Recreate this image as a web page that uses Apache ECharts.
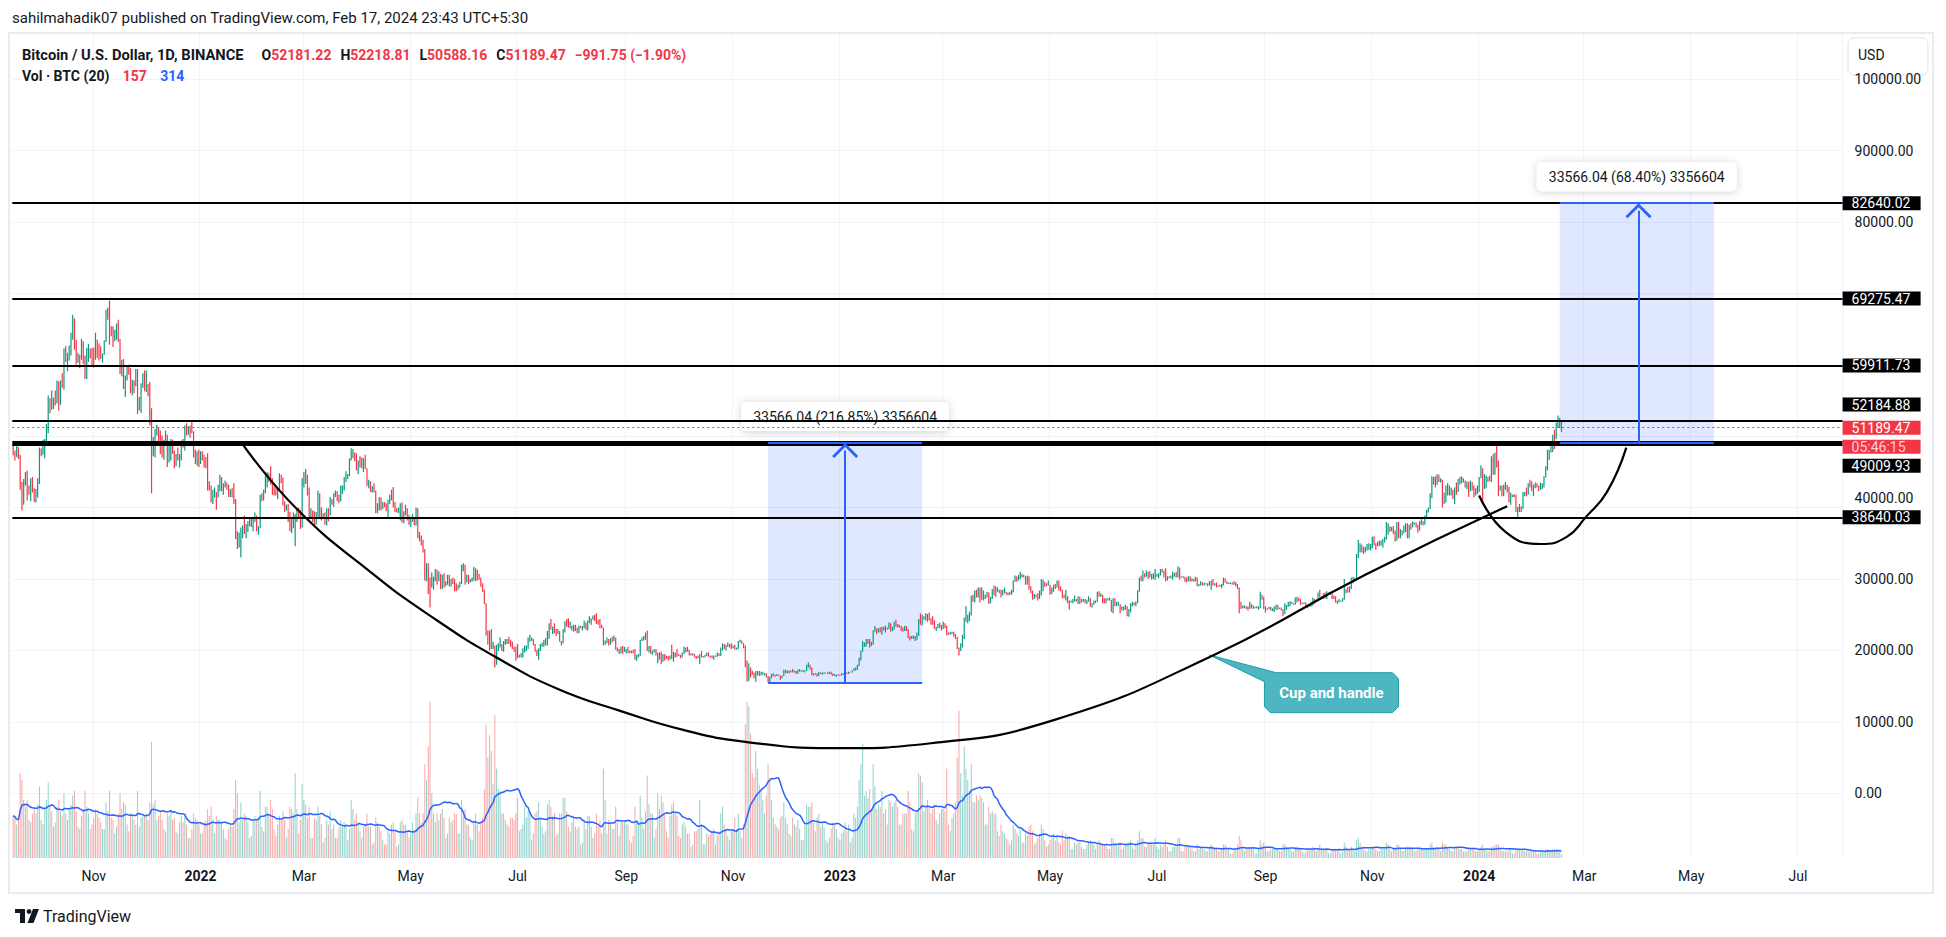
<!DOCTYPE html>
<html><head><meta charset="utf-8">
<script src="https://cdn.jsdelivr.net/npm/echarts/dist/echarts.min.js"></script>
<style>html,body{margin:0;padding:0;background:#fff}#c{width:1946px;height:937px}</style>
</head><body><div id="c"></div>
<script>
// ---------- axis range ----------
const START_DATE = '2021-09-16';
const AXIS_END_DATE = '2024-07-26';
const MONTHS = ['Jan','Feb','Mar','Apr','May','Jun','Jul','Aug','Sep','Oct','Nov','Dec'];
const PRICE_TICKS = {min: -10000, max: 110000, step: 10000};

// ---------- daily BTC prices, units of 100 USD (2021-09-16 .. 2024-02-17) ----------
const firstOpenH = 481;
const closeH = [
477,473,483,472,430,407,436,449,428,427,432,422,410,415,438,
481,477,482,492,515,553,538,539,549,547,575,560,574,573,617,609,615,620,643,660,622,607,613,609,631,603,585,606,623,619,613,
610,632,629,614,610,615,633,675,669,649,648,642,644,655,636,601,604,569,581,597,587,563,576,572,589,537,548,573,578,570,
572,565,536,494,494,506,506,505,476,471,494,501,467,484,489,476,462,469,467,469,490,486,508,504,508,507,506,475,465,471,462,
477,473,465,458,434,431,415,417,419,418,427,439,426,431,432,431,422,424,417,407,364,351,363,367,369,368,372,377,382,379,385,
387,369,373,416,414,424,438,440,444,436,424,422,421,425,445,439,405,400,401,384,370,382,373,383,392,391,377,432,
444,439,425,391,394,384,379,387,419,394,387,388,378,397,393,411,409,418,422,413,410,424,429,440,443,445,468,471,474,471,455,
463,458,464,466,455,432,434,423,428,422,395,401,411,399,406,404,397,408,415,414,405,397,395,395,404,381,392,397,386,376,
385,385,377,397,366,360,355,340,301,310,291,290,293,301,313,299,304,287,303,292,294,303,291,297,295,292,286,290,294,317,318,
298,305,297,299,299,314,311,302,301,291,284,266,225,221,226,204,205,190,206,206,207,200,211,212,215,210,207,203,201,199,
193,193,193,202,202,205,216,216,216,208,200,193,202,206,208,212,208,224,234,232,232,227,225,226,213,212,229,238,236,233,233,
233,230,228,226,233,232,232,238,232,239,239,244,244,243,241,239,233,232,208,212,215,214,215,214,216,203,200,196,203,198,200,
201,199,198,200,198,188,193,193,214,216,218,224,202,202,197,198,201,194,195,190,185,194,193,189,188,192,191,194,196,194,
193,191,196,203,202,199,195,194,194,191,190,192,194,192,191,193,195,193,191,190,192,192,196,193,201,208,203,206,208,206,205,
205,202,202,211,213,209,206,185,159,176,171,168,163,166,169,167,167,167,167,163,158,162,166,166,165,165,164,162,164,172,
170,171,169,171,170,171,168,172,171,171,171,172,178,180,174,166,168,167,164,169,168,168,168,168,168,169,167,165,166,166,165,
166,167,167,169,168,170,169,171,172,174,179,188,199,209,209,212,211,207,211,227,228,227,229,226,231,230,231,230,237,228,231,
237,235,234,233,229,228,232,229,218,216,219,218,218,222,243,237,246,246,243,248,244,242,239,232,232,236,235,231,
236,235,224,223,224,224,222,217,204,202,206,221,241,242,244,250,274,269,280,278,282,273,283,275,275,280,271,273,284,280,285,
285,282,278,282,282,280,279,280,283,297,302,299,304,305,303,303,294,304,288,282,273,278,276,275,283,284,295,293,292,292,
281,287,290,288,295,289,284,277,276,276,270,268,268,269,272,270,274,268,269,271,267,269,272,263,265,267,269,281,277,277,272,
268,272,271,271,258,272,263,265,265,258,259,259,259,251,256,263,265,263,268,283,300,299,307,305,305,303,307,301,304,305,
306,306,312,310,308,299,303,302,302,304,306,304,315,303,303,302,301,299,299,298,299,298,301,292,292,293,292,293,293,293,292,
297,292,292,291,290,291,292,298,296,294,294,294,293,294,292,287,266,260,261,262,261,259,264,262,260,260,261,261,277,273,260,
258,259,259,258,258,258,262,259,259,258,252,259,262,265,266,266,265,268,272,271,266,266,266,263,263,262,264,270,269,270,
280,275,274,278,274,279,279,279,276,274,269,268,269,269,272,285,284,283,287,297,300,300,331,339,345,342,339,341,345,345,346,
354,349,347,351,350,350,354,356,367,373,371,371,365,355,379,362,366,366,374,375,358,374,373,377,378,375,372,378,379,377,
387,395,399,420,441,438,433,442,437,438,412,415,429,430,419,423,414,427,423,437,439,440,437,430,436,425,435,426,421,421,423,
442,450,428,442,442,440,439,470,461,466,463,428,428,417,425,431,427,413,416,417,416,395,399,401,399,418,421,420,433,429,426,
431,432,430,426,427,431,443,453,471,478,483,500,497,518,520,522,512
];
const highH = [
488,480,488,485,474,436,440,450,452,431,441,443,427,426,441,
484,483,495,496,517,557,553,564,554,564,578,577,578,588,623,626,617,627,645,670,665,635,617,614,636,633,613,624,629,623,624,
624,645,635,630,626,616,634,677,680,690,654,654,649,658,663,636,607,608,585,599,600,595,579,578,594,594,555,574,588,592,
592,573,576,539,499,510,516,512,508,501,495,508,502,488,496,495,480,475,484,475,494,496,515,518,514,515,522,507,481,479,481,
479,479,474,471,476,437,431,425,428,422,432,446,443,434,438,435,432,426,427,434,412,367,365,372,375,389,377,381,384,384,387,
393,389,374,418,420,425,445,450,448,458,441,430,427,428,448,446,442,409,404,405,394,384,393,391,398,400,397,441,
450,454,446,428,399,396,395,394,424,420,400,392,393,399,399,415,412,420,424,423,418,431,431,443,451,447,469,483,482,477,476,
466,472,470,469,474,455,439,437,430,434,424,406,415,414,408,408,406,411,418,425,429,408,399,400,406,407,395,404,399,390,
386,391,386,400,399,366,361,355,342,322,322,302,309,303,314,313,311,307,306,308,297,306,306,300,302,300,294,292,296,320,322,
320,306,306,300,302,317,315,313,307,302,294,285,266,228,228,230,212,207,208,210,218,209,213,216,216,219,215,212,205,205,
209,194,196,203,207,207,218,222,218,216,209,201,203,209,211,215,217,227,238,244,233,238,230,230,227,213,230,241,244,245,240,
235,236,236,232,235,234,234,242,239,242,248,245,249,250,252,243,244,236,232,214,218,216,217,219,221,218,204,202,205,206,205,
202,205,200,200,201,202,194,195,215,218,220,225,228,206,206,200,202,202,197,197,198,195,195,193,192,193,208,198,197,202,
195,194,197,205,204,205,201,196,196,195,192,193,195,199,192,194,197,197,193,193,193,193,197,196,204,210,209,208,211,209,210,
207,208,204,213,215,214,210,207,186,182,176,172,169,171,171,171,170,170,168,168,164,163,167,168,166,167,166,165,165,173,
173,172,172,172,174,172,171,173,174,172,173,172,180,183,180,176,168,168,168,170,169,169,169,169,169,170,170,168,167,166,167,
166,168,168,170,169,170,170,172,175,176,180,190,200,213,211,216,216,216,212,228,234,231,231,232,233,233,235,232,239,238,233,
240,243,237,236,234,232,234,234,230,220,220,221,220,225,244,252,250,248,252,251,253,245,248,242,233,237,239,236,
240,238,235,225,226,226,226,223,219,204,210,222,246,262,250,254,277,278,284,285,288,288,288,284,278,282,281,275,286,291,290,
288,285,285,285,288,282,281,282,285,298,305,304,306,310,307,306,304,305,304,290,284,279,278,280,284,300,299,296,294,298,
292,288,292,293,298,298,290,285,278,285,276,270,270,272,277,272,276,275,272,272,272,271,276,273,266,270,270,282,283,280,278,
273,273,273,274,271,273,273,268,268,265,262,261,264,262,258,266,268,267,269,284,302,305,312,308,312,310,311,307,308,314,
307,308,314,314,312,315,304,304,305,310,308,310,318,316,304,304,303,302,304,304,301,300,303,302,293,297,295,295,294,294,297,
298,300,294,295,291,292,293,302,301,297,295,295,295,297,296,293,288,268,263,263,262,262,268,265,263,261,262,262,282,278,275,
262,259,261,261,259,262,264,264,260,260,258,266,264,268,269,268,266,274,275,274,272,267,267,267,264,264,268,274,272,271,
281,285,276,280,281,283,281,282,280,277,276,270,272,270,273,300,286,289,290,302,303,302,335,355,350,348,345,345,349,350,349,
359,360,350,352,354,354,356,359,380,378,374,373,374,368,380,380,370,368,375,378,378,376,378,381,379,379,376,381,386,381,
389,397,400,420,444,443,444,447,446,441,439,421,431,434,431,428,425,428,435,440,443,444,441,438,437,436,438,436,431,427,431,
443,459,455,447,445,443,445,472,475,477,490,466,431,431,432,436,432,429,421,418,419,418,401,405,402,422,422,428,434,439,437,
432,435,434,431,435,434,444,458,481,481,487,502,509,519,529,526,522
];
const lowH = [
473,466,471,468,425,396,404,431,410,418,409,421,408,407,414,
433,472,474,469,490,504,532,537,538,543,546,536,544,568,565,604,591,606,613,635,621,600,603,595,607,601,580,580,604,609,599,
596,607,610,606,608,603,614,632,663,628,640,625,633,635,632,587,584,566,555,578,586,560,557,560,570,531,536,533,568,563,
562,556,515,420,472,470,501,487,475,470,467,487,457,463,466,475,455,458,466,456,466,484,480,501,502,498,504,470,461,459,457,
461,466,456,455,424,424,407,405,414,397,414,423,423,418,428,425,415,415,414,405,356,342,344,330,357,363,357,366,374,373,367,
380,367,362,371,409,410,420,428,436,432,418,417,417,412,423,434,403,394,396,380,367,364,371,346,380,387,370,372,
428,433,417,386,386,380,372,376,385,385,382,385,376,375,381,389,404,401,415,409,406,409,419,424,436,440,444,466,469,465,452,
447,456,455,450,454,430,427,422,421,421,392,392,396,396,398,401,395,386,405,410,400,394,393,392,382,379,378,389,382,376,
373,380,375,375,357,353,347,337,298,297,279,260,288,285,297,292,297,286,286,288,290,292,290,289,293,283,283,285,288,293,311,
292,295,293,295,296,298,297,298,299,289,282,265,221,208,200,202,202,176,180,199,204,199,198,208,209,209,205,202,198,186,
189,190,190,190,197,199,202,212,213,207,198,192,187,199,205,205,207,207,216,229,223,224,220,223,212,207,210,225,233,232,231,
228,226,227,224,224,231,228,231,229,228,238,236,243,241,237,236,231,231,207,208,210,207,208,211,213,201,198,195,196,195,198,
196,196,196,196,196,187,185,190,192,213,214,215,199,197,195,194,197,193,182,187,181,184,186,188,186,187,188,184,190,191,
192,189,190,195,197,198,193,193,193,190,188,189,181,190,190,190,192,191,190,189,187,191,191,192,192,200,202,200,205,204,202,
203,201,201,202,211,209,203,176,156,157,162,166,161,156,165,164,165,166,165,162,155,155,161,164,163,164,164,159,161,164,
168,168,168,169,169,169,167,167,170,170,170,169,171,176,173,165,165,166,163,164,167,166,167,168,167,167,166,164,164,163,165,
164,165,166,166,167,167,169,169,171,172,173,178,186,198,205,205,209,204,206,208,226,223,225,225,222,228,225,229,230,226,227,
229,233,232,232,227,226,227,227,217,214,216,216,213,215,220,236,235,243,242,240,242,236,236,230,227,231,231,228,
230,231,221,222,222,223,219,216,202,193,199,204,216,240,238,241,249,268,267,274,274,267,271,270,272,274,265,266,272,277,275,
282,280,274,277,280,278,277,278,278,281,296,296,298,300,302,302,292,292,285,280,271,272,274,270,272,277,283,289,290,291,
278,279,282,286,288,284,283,273,273,270,266,257,267,266,268,268,265,265,267,268,266,265,268,261,260,264,266,268,275,275,266,
266,266,270,270,254,252,262,262,263,252,256,256,257,248,247,253,262,263,262,266,282,297,297,302,303,300,302,299,300,299,
303,301,305,309,302,297,298,301,301,299,303,302,302,299,302,301,296,295,297,296,297,296,297,290,290,291,291,291,292,290,291,
285,291,291,288,289,289,287,291,295,293,293,293,292,292,290,286,252,258,259,259,258,256,258,259,258,259,259,257,259,271,258,
253,257,258,256,255,254,257,257,258,256,248,251,257,261,262,265,264,264,267,269,264,265,265,262,259,261,261,263,266,269,
269,274,272,272,273,272,278,278,272,272,267,265,267,268,268,271,280,281,281,286,294,297,298,329,337,337,335,337,340,341,340,
343,347,341,346,346,347,344,351,355,362,366,367,363,352,354,357,357,361,364,366,357,357,369,372,376,372,365,368,376,375,
376,385,393,398,413,432,428,432,436,435,400,405,407,417,417,417,412,405,418,422,432,434,435,428,426,415,423,424,414,417,419,
422,441,408,426,427,436,437,436,446,446,456,416,424,416,416,425,421,407,404,415,414,394,385,394,394,398,416,416,418,428,423,
416,427,428,423,425,426,428,442,452,467,477,478,482,496,513,511,506
];
// daily volume, units of 10 BTC
const vol10 = [
190,180,150,170,380,350,260,230,260,170,160,200,220,200,240,
320,170,150,230,260,340,230,210,140,160,230,260,210,190,290,200,170,220,240,280,300,210,140,130,190,220,300,230,200,130,150,
180,220,200,180,160,130,130,250,210,300,180,170,110,140,200,290,220,250,240,150,120,200,200,170,150,300,140,180,190,190,
200,170,250,520,240,260,170,190,210,170,130,120,200,190,220,170,180,120,110,160,190,160,190,150,90,90,130,200,180,170,150,
110,110,160,170,220,190,230,170,110,190,170,170,160,130,90,80,130,150,140,220,350,290,160,250,170,200,190,160,90,100,170,
190,170,180,300,140,120,230,230,200,260,220,130,100,150,190,170,210,170,90,130,230,220,200,380,220,110,170,330,
260,240,180,230,90,90,180,170,230,190,150,70,90,170,150,210,130,150,90,90,140,170,140,160,150,80,130,260,220,170,200,
160,120,90,140,150,200,140,140,60,70,180,160,140,120,80,60,60,130,110,150,160,120,50,60,160,170,150,150,120,90,
110,160,130,200,270,200,160,200,420,350,500,700,290,200,160,200,170,200,220,180,90,110,180,160,170,200,200,110,110,260,190,
220,150,150,90,80,170,200,150,120,160,180,310,600,450,550,480,330,640,400,310,300,200,200,170,150,140,180,180,170,200,
270,120,130,150,230,180,210,200,80,110,200,210,250,180,140,110,120,240,260,230,190,200,100,110,200,200,270,270,210,140,120,
160,190,140,130,140,60,70,170,130,190,190,140,90,110,200,140,170,110,400,260,110,170,160,130,130,230,160,100,160,170,170,
150,150,80,70,100,230,170,160,280,180,130,210,370,240,200,200,90,130,290,220,280,250,200,120,90,190,240,250,200,190,
100,90,150,160,140,110,110,50,60,120,120,130,260,150,60,60,110,100,110,120,130,60,100,120,200,230,150,120,100,80,120,
130,180,130,200,120,90,150,600,700,680,560,380,360,480,400,330,300,260,200,280,420,360,260,180,150,140,130,180,190,250,
180,150,110,100,180,150,140,170,130,80,80,150,240,230,230,250,160,120,180,200,140,160,140,80,70,90,130,160,150,130,90,
80,110,120,160,120,150,70,90,200,180,230,350,420,510,280,300,270,310,220,420,320,220,240,230,300,200,220,150,260,250,230,
250,260,230,150,150,200,200,200,300,250,130,120,200,210,380,370,340,210,230,260,230,200,220,240,170,150,200,220,
220,210,400,150,120,180,200,250,450,660,380,280,500,400,350,300,420,250,250,280,260,280,270,250,150,150,230,200,210,200,200,
120,100,150,120,110,90,80,60,80,150,130,110,100,130,70,70,110,100,140,150,120,60,70,90,110,150,130,80,50,60,
80,90,110,80,100,70,60,120,80,110,100,90,40,40,70,60,70,70,50,40,40,60,70,80,70,60,40,60,80,60,60,
60,60,40,40,90,90,70,60,60,70,40,50,60,70,70,80,50,40,60,80,120,90,90,50,50,70,70,60,60,90,
50,40,60,50,60,80,50,30,30,50,50,50,90,90,30,30,50,50,50,50,40,30,30,60,40,50,40,40,30,30,50,
60,50,40,40,30,30,40,60,60,40,40,20,20,40,40,60,100,80,40,30,40,40,50,40,40,20,20,40,80,60,70,
50,30,30,40,40,40,40,40,30,30,60,60,50,40,40,30,30,50,50,50,40,30,20,30,40,40,40,50,40,30,
40,60,40,40,40,40,20,20,40,40,40,40,30,20,30,70,50,40,40,50,40,30,80,90,70,50,40,30,30,40,40,
50,50,40,30,30,40,40,40,70,60,40,30,40,50,60,60,40,30,30,40,50,50,40,40,30,30,40,40,40,40,
40,40,40,60,70,50,50,50,40,30,70,60,60,50,40,30,30,50,50,50,40,40,30,30,30,40,40,40,40,30,30,
40,50,60,40,40,30,30,50,50,60,60,60,40,30,30,30,30,40,40,20,20,40,40,40,30,40,30,30,30,30,30,
30,30,20,20,30,30,30,40,40,30,30,40,40,40,40,30,16
];

// ---------- drawn levels and tools ----------
const levelValues = [82640.02, 69275.47, 59911.73, 52184.88, 49009.93, 38640.03];
const lastPrice = 51189.47;
const lastCountdown = '05:46:15';
const rangeLeft  = {from:'2022-11-21', to:'2023-02-17', arrow:'2023-01-04', low:15478.90, high:49044.94, text:'33566.04 (216.85%) 3356604'};
const rangeRight = {from:'2024-02-16', to:'2024-05-14', arrow:'2024-04-01', low:49073.10, high:82639.14, text:'33566.04 (68.40%) 3356604'};
const arrowTipGap = 1050; // USD: chevron centre sits below the range edge
const cupDates = ['2022-01-25','2022-02-25','2022-04-09','2022-05-13','2022-06-19','2022-07-24','2022-08-29','2022-10-03','2022-11-08','2022-12-31','2023-02-22','2023-05-04','2023-08-02','2023-10-28','2024-01-17'];
const cupValues = [48900,39800,30800,24700,19000,14600,11500,8900,7200,6300,7000,10300,19300,30600,40200];
const handleDates = ['2024-01-01','2024-01-16','2024-02-05','2024-02-20','2024-03-02','2024-03-14','2024-03-25'];
const handleValues = [41700,36600,34900,35900,38700,42200,48400];
const calloutTip = {date:'2023-07-31', value:19360, text:'Cup and handle'};
const hiddenTickGap = 1000; // price-scale ticks this close to a boxed level sit under its box

const HEADER = 'sahilmahadik07 published on TradingView.com, Feb 17, 2024 23:43 UTC+5:30';
const SYMBOL_TEXT = 'Bitcoin / U.S. Dollar, 1D, BINANCE';
const OHLC = {O:'52181.22', H:'52218.81', L:'50588.16', C:'51189.47', chg:'\u2212991.75 (\u22121.90%)'};
const VOL_TEXT = {name:'Vol \u00b7 BTC (20)', v:'157', ma:'314'};

// ---------- build ----------
const FONT = 'Roboto, "Noto Sans", "Liberation Sans", sans-serif';
const UP = '#089981', DN = '#f23645', BLUE = '#2962ff';
function dayList(a, b) {
  const out = []; let t = Date.parse(a + 'T00:00:00Z'); const e = Date.parse(b + 'T00:00:00Z');
  while (t <= e) { out.push(new Date(t).toISOString().slice(0, 10)); t += 86400000; }
  return out;
}
const dates = dayList(START_DATE, AXIS_END_DATE);
const isTick = v => v.slice(8) === '01' && (+v.slice(5, 7)) % 2 === 1;

const candles = closeH.map((c, i) => {
  const o = i ? closeH[i - 1] : firstOpenH;
  const h = Math.max(highH[i] ?? c, o, c), l = Math.min(lowH[i] ?? c, o, c);
  return [o * 100, c * 100, l * 100, h * 100];
});
const volData = vol10.map((v, i) => ({
  value: v * 10,
  itemStyle: {color: candles[i][1] >= candles[i][0] ? 'rgba(38,166,154,0.5)' : 'rgba(239,83,80,0.5)'}
}));
const volMA = vol10.map((_, i) => {
  const s = Math.max(0, i - 19); let sum = 0;
  for (let k = s; k <= i; k++) sum += vol10[k];
  return sum / (i - s + 1) * 10;
});
const boxedValues = levelValues.concat([lastPrice]);

const BOX = {backgroundColor:'#000', color:'#fff', fontSize:14, fontFamily:FONT, lineHeight:21, width:60, padding:[0,9,0,9], align:'left'};
const richBase = {
  box: BOX,
  r1: Object.assign({}, BOX, {backgroundColor:DN, lineHeight:19}),
  r2: Object.assign({}, BOX, {backgroundColor:DN, lineHeight:19, color:'rgba(255,255,255,0.78)'}),
  sp19: {fontSize:1, lineHeight:19}, sp32: {fontSize:1, lineHeight:32}, sp45: {fontSize:1, lineHeight:45}
};
function levelItem(v) {
  const t = v.toFixed(2);
  let fmt = '{box|' + t + '}';
  if (v === 52184.88) fmt = fmt + '\n{sp32| }';
  if (v === 49009.93) fmt = '{sp45| }\n' + fmt;
  return {yAxis: v, lineStyle: {color:'#000', width: v === 49009.93 ? 5 : 2, type:'solid'},
          label: {show:true, position:'end', distance:0, formatter: fmt, rich: richBase}};
}
const CHEVRON = 'path://M0,13 L13,0 L26,13 L24,15 L13,4 L2,15 Z';
function rangeLines(r) {
  const ls = {color: BLUE, width: 2, type: 'solid'};
  return [
    [{coord:[r.from, r.low], lineStyle:ls}, {coord:[r.to, r.low]}],
    [{coord:[r.from, r.high], lineStyle:ls}, {coord:[r.to, r.high]}],
    [{coord:[r.arrow, r.low], lineStyle:ls, symbol:'none'}, {coord:[r.arrow, r.high - arrowTipGap], symbol:CHEVRON, symbolSize:[26,15]}]
  ];
}
const markLineData = levelValues.map(levelItem).concat([
  {yAxis: lastPrice, lineStyle:{color:DN, width:1, type:[2,3]},
   label:{show:true, position:'end', distance:0, formatter:'{sp19| }\n{r1|' + lastPrice.toFixed(2) + '}\n{r2|' + lastCountdown + '}', rich: richBase}}
]).concat(rangeLines(rangeLeft), rangeLines(rangeRight));

const rangeLabel = {show:true, position:'top', distance:12, color:'#131722', fontSize:14, fontFamily:FONT,
  backgroundColor:'#fff', borderRadius:5, padding:[8,12,7,12], shadowBlur:8, shadowColor:'rgba(0,0,0,0.18)', shadowOffsetY:1};
const markAreaData = [rangeLeft, rangeRight].map(r => [
  {name: r.text, coord:[r.from, r.low], label: rangeLabel}, {coord:[r.to, r.high]}
]);

function priceTickLabel(v) {
  if (boxedValues.some(b => Math.abs(b - v) <= hiddenTickGap)) return '';
  // a tick just above a boxed level peeks out over the box: lift it clear of the box
  if (boxedValues.some(b => v - b > hiddenTickGap && v - b <= 2 * hiddenTickGap)) return '{lift|' + v.toFixed(2) + '}';
  return v.toFixed(2);
}

const GRID_L = 12.3, GRID_R = 103.4;
const option = {
  animation: false,
  backgroundColor: '#ffffff',
  textStyle: {fontFamily: FONT},
  title: [
    {text: HEADER, left: 12, top: 10, padding: 0, textStyle: {fontSize: 15, fontWeight: 'normal', color: '#131722', fontFamily: FONT}},
    {text: '{s|' + SYMBOL_TEXT + '}    {n|O}{r|' + OHLC.O + '}  {n|H}{r|' + OHLC.H + '}  {n|L}{r|' + OHLC.L + '}  {n|C}{r|' + OHLC.C + '}  {r|' + OHLC.chg + '}',
     left: 22, top: 46, padding: 0,
     textStyle: {rich: {s: {fontSize: 14.7, color: '#131722', fontFamily: FONT}, n: {fontSize: 14, color: '#131722', fontFamily: FONT}, r: {fontSize: 14, color: DN, fontFamily: FONT}}}},
    {text: '{n|' + VOL_TEXT.name + '}   {r|' + VOL_TEXT.v + '}   {b|' + VOL_TEXT.ma + '}',
     left: 22, top: 67, padding: 0,
     textStyle: {rich: {n: {fontSize: 14, color: '#131722', fontFamily: FONT}, r: {fontSize: 14, color: DN, fontFamily: FONT}, b: {fontSize: 14, color: BLUE, fontFamily: FONT}}}}
  ],
  grid: [
    {left: GRID_L, right: GRID_R, top: 7.8, bottom: 72.4, containLabel: false, outerBoundsMode: 'none'},
    {left: GRID_L, right: GRID_R, top: 33, bottom: 79, containLabel: false, outerBoundsMode: 'none'}
  ],
  xAxis: [
    {type: 'category', gridIndex: 0, data: dates, show: false},
    {type: 'category', gridIndex: 1, data: dates,
     axisLine: {show: false}, axisTick: {show: false},
     axisLabel: {interval: (i, v) => isTick(v), margin: 11, color: '#131722', fontSize: 14, fontFamily: FONT,
       formatter: v => { const m = +v.slice(5, 7); return m === 1 ? '{y|' + v.slice(0, 4) + '}' : MONTHS[m - 1]; },
       rich: {y: {fontWeight: 'bold', fontSize: 14, color: '#131722', fontFamily: FONT}}},
     splitLine: {show: true, interval: (i, v) => isTick(v), lineStyle: {color: '#f0f3fa', width: 1}}}
  ],
  yAxis: [
    {type: 'value', gridIndex: 0, position: 'right', min: PRICE_TICKS.min, max: PRICE_TICKS.max, interval: PRICE_TICKS.step,
     axisLine: {show: false}, axisTick: {show: false},
     axisLabel: {showMinLabel: false, showMaxLabel: false, margin: 12, color: '#131722', fontSize: 14, fontFamily: FONT,
       formatter: priceTickLabel,
       rich: {lift: {fontSize: 14, color: '#131722', fontFamily: FONT, padding: [0, 0, 19, 0]}}},
     splitLine: {show: true, showMinLine: false, showMaxLine: false, lineStyle: {color: '#f0f3fa', width: 1}}},
    {type: 'value', gridIndex: 1, min: 0, max: 37000, show: false, splitLine: {show: false}}
  ],
  series: [
    {type: 'bar', name: 'vol', xAxisIndex: 1, yAxisIndex: 1, data: volData, barWidth: 1, silent: true, z: 1},
    {type: 'line', name: 'volma', xAxisIndex: 1, yAxisIndex: 1, data: volMA, symbol: 'none', silent: true,
     lineStyle: {color: BLUE, width: 1.5}, z: 2},
    {type: 'candlestick', name: 'BTC', xAxisIndex: 0, yAxisIndex: 0, data: candles, large: true, largeThreshold: 100, silent: true,
     itemStyle: {color: UP, color0: DN, borderColor: UP, borderColor0: DN, borderColorDoji: UP, borderWidth: 1.2}, z: 3,
     markArea: {silent: true, itemStyle: {color: 'rgba(41,98,255,0.15)'}, data: markAreaData},
     markLine: {silent: true, symbol: ['none', 'none'], label: {show: false}, data: markLineData, z: 5}},
    {type: 'line', name: 'cup', xAxisIndex: 0, yAxisIndex: 0, data: cupDates.map((d, i) => [d, cupValues[i]]),
     smooth: 0.5, symbol: 'none', silent: true, lineStyle: {color: '#000', width: 2.2}, z: 6},
    {type: 'line', name: 'handle', xAxisIndex: 0, yAxisIndex: 0, data: handleDates.map((d, i) => [d, handleValues[i]]),
     smooth: 0.5, symbol: 'none', silent: true, lineStyle: {color: '#000', width: 2.2}, z: 6}
  ]
};

const chart = echarts.init(document.getElementById('c'), null, {renderer: 'svg', width: 1946, height: 937});
chart.setOption(option);

// annotations positioned from data coordinates
const tip = chart.convertToPixel({xAxisIndex: 0, yAxisIndex: 0}, [dates.indexOf(calloutTip.date), calloutTip.value]);
const TEAL = '#4db6c1';
chart.setOption({graphic: [
  {type: 'rect', z: 50, silent: true, shape: {x: 9, y: 33, width: 1924, height: 860}, style: {fill: 'none', stroke: '#e9ebf1', lineWidth: 2}},
  {type: 'group', z: 60, silent: true, children: [
    {type: 'rect', shape: {x: 1848, y: 38, width: 80, height: 37, r: 6}, style: {fill: '#fff', stroke: '#e0e3eb', lineWidth: 1}},
    {type: 'text', x: 1858, y: 55, style: {text: 'USD', fill: '#131722', fontSize: 14, fontFamily: FONT, verticalAlign: 'middle'}}
  ]},
  {type: 'group', z: 60, silent: true, x: 15, y: 909, children: [
    {type: 'rect', shape: {x: 0, y: 0, width: 10, height: 4}, style: {fill: '#131722'}},
    {type: 'rect', shape: {x: 5, y: 0, width: 5, height: 14}, style: {fill: '#131722'}},
    {type: 'circle', shape: {cx: 14, cy: 2.5, r: 2.4}, style: {fill: '#131722'}},
    {type: 'polygon', shape: {points: [[18, 0], [24, 0], [18.5, 14], [12.5, 14]]}, style: {fill: '#131722'}},
    {type: 'text', x: 28, y: 7, style: {text: 'TradingView', fill: '#131722', fontSize: 16, fontFamily: FONT, verticalAlign: 'middle'}}
  ]},
  {type: 'group', z: 60, silent: true, x: tip[0], y: tip[1], children: [
    {type: 'polygon', shape: {points: [[0, 0], [66.7, 17.7], [183, 17.7], [189, 23.7], [189, 51.7], [183, 57.7], [61, 57.7], [55, 51.7], [55, 26.7]]},
     style: {fill: TEAL, stroke: '#1e9eaa', lineWidth: 1}},
    {type: 'text', x: 122, y: 38, style: {text: calloutTip.text, fill: '#fff', fontSize: 15, fontWeight: 'bold', fontFamily: FONT, align: 'center', verticalAlign: 'middle'}}
  ]}
]});
</script></body></html>
